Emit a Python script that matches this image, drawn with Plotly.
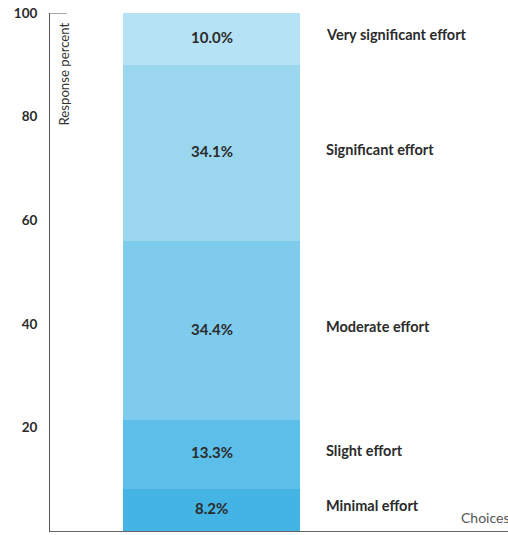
import plotly.graph_objects as go

# Survey answers, stacked bottom to top
choices = ["Minimal effort", "Slight effort", "Moderate effort", "Significant effort", "Very significant effort"]
percents = [8.2, 13.3, 34.4, 34.1, 10.0]
colors = ["#43b4e3", "#5bbfe9", "#7ecbee", "#9bd6ef", "#b5e2f5"]
y_ticks = [0, 20, 40, 60, 80, 100]

W, H = 508, 535
ML, MR, MT, MB = 50, 0, 13, 4
plot_w = W - ML - MR

bar_center = (211.5 - ML) / plot_w
bar_width = 177 / plot_w
label_x = (324 - ML) / plot_w

fig = go.Figure()
base = 0.0
for name, val, col in zip(choices, percents, colors):
    fig.add_trace(go.Bar(
        x=[bar_center], y=[val], base=[base], width=[bar_width],
        marker=dict(color=col, line=dict(width=0)),
        name=name, showlegend=False, hoverinfo="skip",
    ))
    mid = base + val / 2
    # value label centred in its segment
    fig.add_annotation(
        x=bar_center, y=mid, xref="x", yref="y",
        text=f"<b>{val:.1f}%</b>", showarrow=False, xanchor="center", yanchor="middle",
        yshift=2, font=dict(family="Lato", size=15, color="#2b2b2b"),
    )
    # category name to the right of the bar
    fig.add_annotation(
        x=label_x, y=mid, xref="x", yref="y",
        text=f"<b>{name}</b>", showarrow=False, xanchor="left", yanchor="middle",
        yshift=4, font=dict(family="Lato", size=14.5, color="#2b2b2b"),
    )
    base += val

fig.add_annotation(
    x=(63 - ML) / plot_w, y=1, xref="paper", yref="paper",
    yshift=-8, text="Response percent", textangle=-90, showarrow=False,
    xanchor="center", yanchor="top", font=dict(family="Lato", size=13.2, color="#333333"),
)
fig.add_annotation(
    x=(459 - ML) / plot_w, y=0, xref="paper", yref="paper", yshift=14,
    text="Choices", showarrow=False, xanchor="left", yanchor="middle",
    font=dict(family="Lato", size=14, color="#555555"),
)
# short cap at the top of the value axis
fig.add_shape(type="line", xref="paper", yref="y", x0=0, x1=17 / plot_w, y0=100, y1=100,
              line=dict(color="#555555", width=1))

fig.update_layout(
    width=W, height=H, margin=dict(l=ML, r=MR, t=MT, b=MB),
    paper_bgcolor="white", plot_bgcolor="white", barmode="overlay", bargap=0,
    xaxis=dict(range=[0, 1], showgrid=False, zeroline=False, showticklabels=False,
               ticks="", showline=True, linecolor="#666666", linewidth=1, fixedrange=True),
    yaxis=dict(range=[0, 100], tickvals=y_ticks, showgrid=False, zeroline=False,
               showline=True, linecolor="#555555", linewidth=1, ticks="",
               ticklabelstandoff=9,
               tickfont=dict(family="Lato", size=13.5, color="#2b2b2b", weight="bold")),
)

fig.write_html("out.html")
